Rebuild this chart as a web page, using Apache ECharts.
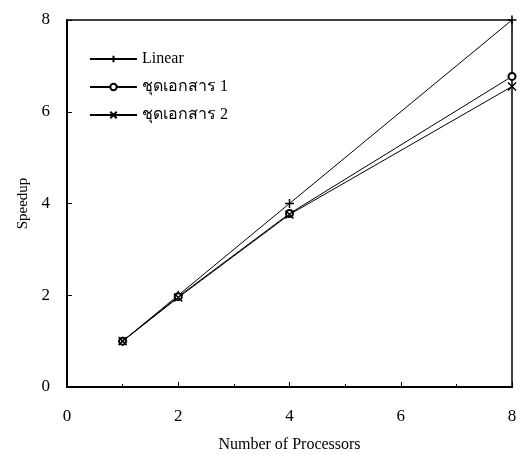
<!DOCTYPE html>
<html>
<head>
<meta charset="utf-8">
<script src="https://cdn.jsdelivr.net/npm/echarts@6/dist/echarts.min.js"></script>
<style>
html,body{margin:0;padding:0;background:#fff;}
#chart1{width:520px;height:455px;}
</style>
</head>
<body>
<div id="chart1"></div>
<script>
var processors=[1,2,4,8];
var linearData=[1,2,4,8];
var set1Data=[1,1.97,3.78,6.77];
var set2Data=[1,1.95,3.76,6.55];
var seriesNames=['Linear','ชุดเอกสาร 1','ชุดเอกสาร 2'];

var plusPath='path://M5,0L5,10M0,5L10,5';
var crossPath='path://M0,0L10,10M10,0L0,10';
var fontName='"Liberation Serif","Times New Roman",serif';

function pairs(ys){
	var out=[];
	for(var i=0;i<processors.length;i++){
		out.push([processors[i],ys[i]]);
	}
	return out;
}

function mkSeries(name,ys,symbol,size){
	return {
		name:name,
		type:'line',
		data:pairs(ys),
		symbol:symbol,
		symbolSize:size,
		lineStyle:{color:'#000',width:1},
		itemStyle:{color:'#000',borderColor:'#000',borderWidth:1.5},
		animation:false
	};
}

var myChart=echarts.init(document.getElementById('chart1'));
var option={
	backgroundColor:'#fff',
	textStyle:{fontFamily:fontName},
	grid:{left:67,top:20,right:8,bottom:68,show:true,borderColor:'#000',borderWidth:1.5,outerBoundsMode:'none',containLabel:false},
	legend:{
		orient:'vertical',
		left:84,
		top:46,
		itemWidth:47,
		itemHeight:8,
		itemGap:12,
		textStyle:{fontFamily:fontName,fontSize:16,color:'#000'},
		data:seriesNames
	},
	xAxis:{
		type:'value',
		min:0,max:8,interval:2,
		name:'Number of Processors',
		nameLocation:'middle',
		nameGap:50,
		nameTextStyle:{fontFamily:fontName,fontSize:16,color:'#000'},
		axisLine:{show:true,onZero:false,lineStyle:{color:'#000',width:2}},
		axisTick:{show:true,inside:true,length:5,lineStyle:{color:'#000'}},
		minorTick:{show:true,splitNumber:2,length:3,lineStyle:{color:'#000'}},
		splitLine:{show:false},
		axisLabel:{fontFamily:fontName,fontSize:17,color:'#000',margin:21}
	},
	yAxis:{
		type:'value',
		min:0,max:8,interval:2,
		name:'Speedup',
		nameLocation:'middle',
		nameGap:35,
		nameTextStyle:{fontFamily:fontName,fontSize:15,color:'#000'},
		axisLine:{show:true,onZero:false,lineStyle:{color:'#000',width:2}},
		axisTick:{show:true,inside:true,length:5,lineStyle:{color:'#000'}},
		splitLine:{show:false},
		axisLabel:{fontFamily:fontName,fontSize:17,color:'#000',margin:17}
	},
	series:[
		mkSeries(seriesNames[0],linearData,plusPath,9),
		mkSeries(seriesNames[1],set1Data,'emptyCircle',7),
		mkSeries(seriesNames[2],set2Data,crossPath,8)
	]
};
myChart.setOption(option);
window.addEventListener("resize",function(){
	myChart.resize();
});
</script>
</body>
</html>
